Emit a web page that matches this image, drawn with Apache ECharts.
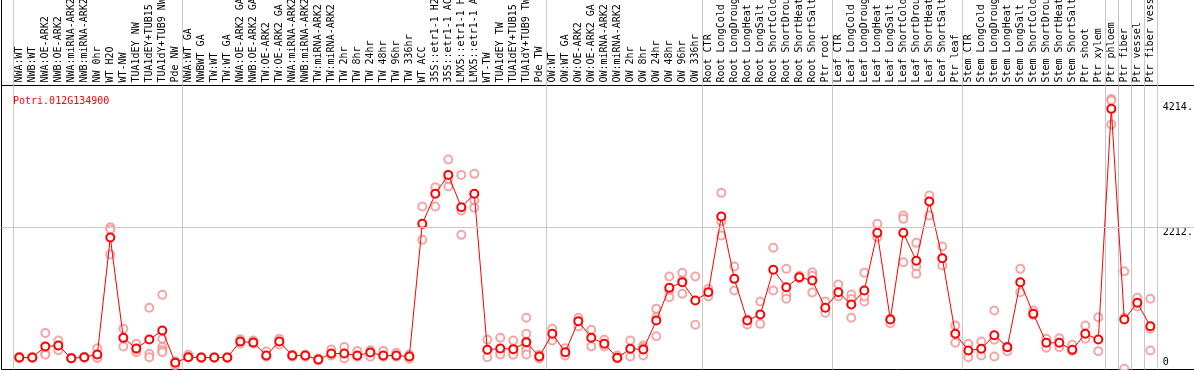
<!DOCTYPE html>
<html>
<head>
<meta charset="utf-8">
<script src="https://cdn.jsdelivr.net/npm/echarts@6/dist/echarts.min.js"></script>
<style>
html,body{margin:0;padding:0;background:#fff;}
#chart{width:1194px;height:370px;}
</style>
</head>
<body>
<div id="chart"></div>
<script>
const title = 'Potri.012G134900';
const categories = [
 'NWA:WT','NWB:WT','NWA:OE-ARK2','NWB:OE-ARK2','NWA:miRNA-ARK2','NWB:miRNA-ARK2','NW 0hr','WT H2O','WT-NW',
 'TUA1dEY NW','TUA1dEY+TUB15 NW','TUA1dY+TUB9 NW','Pde NW',
 'NWA:WT GA','NWBWT GA','TW:WT','TW:WT GA','NWA:OE-ARK2 GA','NWB:OE-ARK2 GA','TW:OE-ARK2','TW:OE-ARK2 GA',
 'NWA:miRNA-ARK2','NWB:miRNA-ARK2','TW:miRNA-ARK2','TW:miRNA-ARK2','TW 2hr','TW 8hr','TW 24hr','TW 48hr','TW 96hr','TW 336hr',
 'WT ACC','35S::etr1-1 H2O','35S::etr1-1 ACC','LMX5::etr1-1 H2O','LMX5::etr1-1 ACC','WT-TW',
 'TUA1dEY TW','TUA1dEY+TUB15 TW','TUA1dY+TUB9 TW','Pde TW',
 'OW:WT','OW:WT GA','OW:OE-ARK2','OW:OE-ARK2 GA','OW:miRNA-ARK2','OW:miRNA-ARK2','OW 2hr','OW 8hr','OW 24hr','OW 48hr','OW 96hr','OW 336hr',
 'Root CTR','Root LongCold','Root LongDrought','Root LongHeat','Root LongSalt','Root ShortCold','Root ShortDrought','Root ShortHeat','Root ShortSalt','Ptr root',
 'Leaf CTR','Leaf LongCold','Leaf LongDrought','Leaf LongHeat','Leaf LongSalt','Leaf ShortCold','Leaf ShortDrought','Leaf ShortHeat','Leaf ShortSalt','Ptr leaf',
 'Stem CTR','Stem LongCold','Stem LongDrought','Stem LongHeat','Stem LongSalt','Stem ShortCold','Stem ShortDrought','Stem ShortHeat','Stem ShortSalt','Ptr shoot',
 'Ptr xylem','Ptr phloem','Ptr fiber','Ptr vessel','Ptr fiber vessel'
];
const means = [
 187,187,358,374,176,192,234,2056,493,327,467,607,104,
 192,187,187,187,436,420,218,436,218,218,156,249,249,218,265,218,218,202,
 2269,2737,3032,2528,2737,307,327,317,426,202,
 556,270,753,494,400,182,322,312,763,1272,1360,1075,
 1204,2383,1412,763,857,1553,1282,1438,1386,961,
 1204,1012,1231,2129,779,2129,1693,2617,1734,556,
 296,322,535,348,1360,867,416,416,307,556,
 467,4061,779,1039,675
];
const replicates = [
 [170,200,190],[180,195],[570,250,230],[450,300,370],[170,185],[200,185],[330,190,180],[2217,2181,1791],[634,358],
 [400,270,310],[961,244,192],[1164,478,350,300,270],[104,67,130],
 [229,190],[190,180],[185,190],[190,180],[470,400],[450,400],[280,200],[480,390],
 [230,200],[230,200],[170,140],[310,220],[350,170],[290,200],[200,300],[290,200],[260,200],[167,230],
 [2539,2020],[2840,2539],[3271,2851,2970],[3032,2477,2098],[3048,2633,2519],[463,192],
 [494,270,234],[452,245,230],[805,556,348,300,234],[167,230],
 [634,452],[332,218],[805,670],[618,358],[463,358],[218,170],[452,202],[374,218,340],[945,815,519],[1449,1220,1127],[1506,1386,1179],[1449,696],
 [1257,1137],[2752,2310,2087],[1604,1231],[780,701],[1059,711],[1896,1231],[1568,1163,1101],[1460,1420],[1516,1460,1199],[1059,883],
 [1324,1137],[1168,805,1100],[1506,1059,1137],[2269,2061],[721,790],[2399,2347,1671],[1973,1604,1490],[2710,2399],[1916,1620],[685,416],
 [400,192],[436,218],[919,463,202],[286,360],[1568,1204],[919,850],[478,338],[488,348],[385,290],[685,478],
 [815,286],[4214,4190,3816],[1531,805,11],[1117,981],[1101,634,296]
];
const yTickValues = [0, 2212, 4214];
const yTickLabels = ['0', '2212.', '4214.'];
const yMax = 4214 * 1.05;
const groupStarts = [0, 13, 41, 53, 63, 73, 84, 85, 86, 87];

const mono = 'DejaVu Sans Mono';
const repData = [];
replicates.forEach((arr, i) => arr.forEach(v => repData.push([i, v])));

const sepInterval = (idx) => groupStarts.indexOf(idx) >= 0;
const gridLeft = 12.8, gridRight = 37.2, plotTop = 85.5, plotBottom = 0.5;
const noBounds = {containLabel: false, outerBoundsMode: 'none'};

const chart = echarts.init(document.getElementById('chart'), null, {renderer: 'canvas'});
chart.setOption({
  animation: false,
  backgroundColor: '#fff',
  title: {
    text: title, left: 8, top: 91,
    textStyle: {fontFamily: mono, fontSize: 10, fontWeight: 'normal', color: '#ff0000'}
  },
  grid: [
    Object.assign({left: gridLeft, right: gridRight, top: plotTop, bottom: plotBottom}, noBounds),
    Object.assign({left: gridLeft, right: gridRight, top: 0, height: plotTop}, noBounds),
    Object.assign({left: 1.5, right: -6, top: plotTop, bottom: plotBottom, show: true, borderColor: '#000', borderWidth: 1,
     backgroundColor: 'transparent'}, noBounds),
    Object.assign({left: 1.5, width: 100, top: 0, height: plotTop}, noBounds)
  ],
  xAxis: [
    {
      gridIndex: 0, type: 'category', data: categories, position: 'top', boundaryGap: true,
      axisLine: {show: false}, axisTick: {show: false},
      axisLabel: {interval: 0, rotate: 90, margin: 3, fontFamily: mono, fontSize: 10, color: '#000', hideOverlap: false},
      splitLine: {show: true, interval: sepInterval, lineStyle: {color: '#c8c8c8', width: 1}}
    },
    {
      gridIndex: 1, type: 'category', data: categories, boundaryGap: true,
      axisLine: {show: false}, axisTick: {show: false}, axisLabel: {show: false},
      splitLine: {show: true, interval: sepInterval, lineStyle: {color: '#c8c8c8', width: 1}}
    },
    {gridIndex: 2, type: 'value', min: 0, max: 1, show: false},
    {gridIndex: 3, type: 'value', min: 0, max: 1, show: false}
  ],
  yAxis: [
    {
      gridIndex: 0, type: 'value', position: 'right', min: 0, max: yMax,
      axisLine: {show: false}, axisTick: {show: false}, splitLine: {show: false},
      axisLabel: {
        customValues: yTickValues, margin: 6, fontFamily: mono, fontSize: 10, color: '#000',
        formatter: (v) => {
          const k = yTickValues.indexOf(v);
          const style = ['b', 'm', 't'][k];
          return '{' + style + '|' + yTickLabels[k] + '}';
        },
        rich: {
          b: {fontFamily: mono, fontSize: 10, color: '#000', padding: [0, 0, 15, 0]},
          m: {fontFamily: mono, fontSize: 10, color: '#000', padding: [9, 0, 0, 0]},
          t: {fontFamily: mono, fontSize: 10, color: '#000', padding: [16, 0, 0, 0]}
        }
      }
    },
    {gridIndex: 1, type: 'value', show: false},
    {gridIndex: 2, type: 'value', min: 0, max: yMax, show: false},
    {
      gridIndex: 3, type: 'value', min: 0, max: 1, position: 'left',
      axisLine: {show: true, lineStyle: {color: '#000', width: 1}},
      axisTick: {show: false}, axisLabel: {show: false}, splitLine: {show: false}
    }
  ],
  series: [
    {
      type: 'line', xAxisIndex: 2, yAxisIndex: 2, data: [], silent: true,
      markLine: {
        silent: true, symbol: 'none', label: {show: false}, animation: false,
        lineStyle: {color: '#c8c8c8', width: 1, type: 'solid'},
        data: [{yAxis: yMax / 2}]
      }
    },
    {
      name: 'replicates', type: 'scatter', xAxisIndex: 0, yAxisIndex: 0, data: repData,
      symbol: 'emptyCircle', symbolSize: 8, z: 2,
      itemStyle: {color: '#f09090', borderColor: '#f09090', borderWidth: 1}
    },
    {
      name: 'mean', type: 'line', xAxisIndex: 0, yAxisIndex: 0, data: means,
      symbol: 'emptyCircle', symbolSize: 8, showAllSymbol: true, z: 3,
      lineStyle: {color: '#ff0000', width: 1},
      itemStyle: {color: '#ff0000', borderColor: '#ff0000', borderWidth: 1.6}
    }
  ]
});
</script>
</body>
</html>
